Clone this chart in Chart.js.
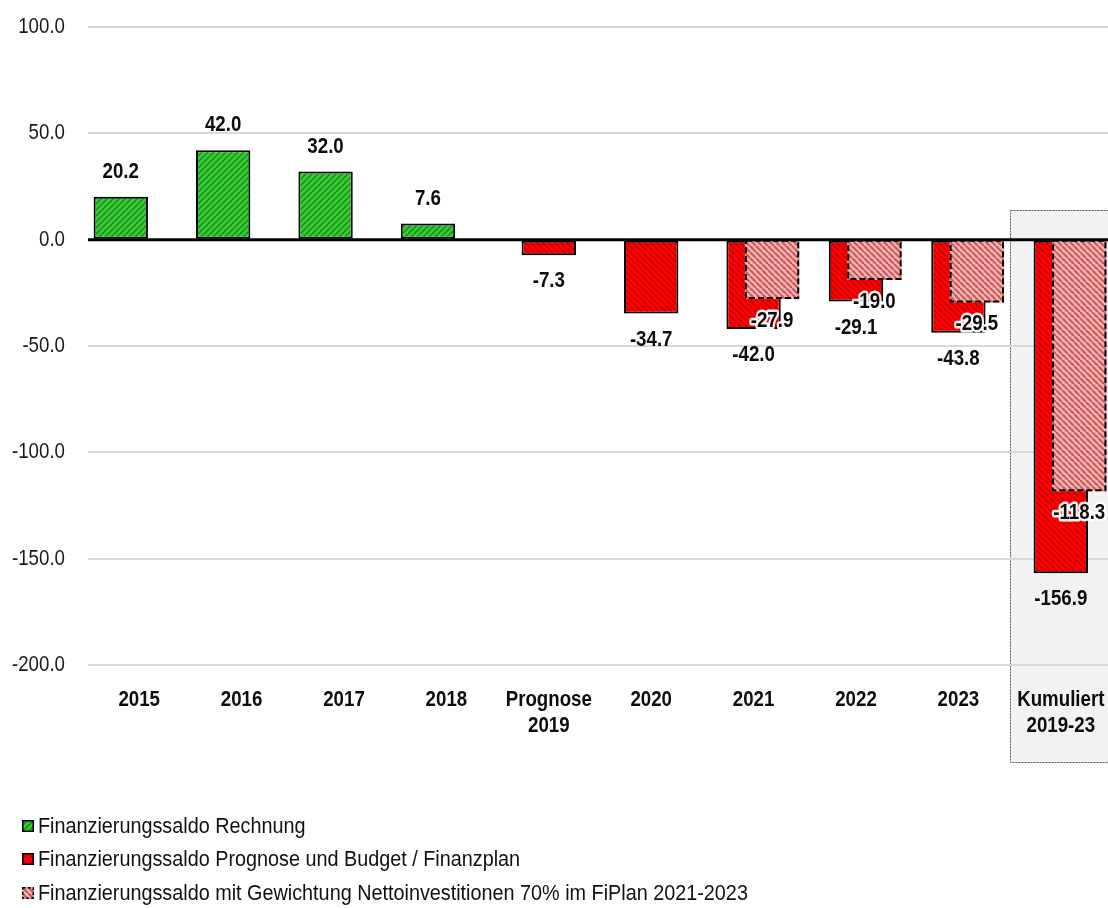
<!DOCTYPE html>
<html>
<head>
<meta charset="utf-8">
<script src="https://cdn.jsdelivr.net/npm/chart.js@4"></script>
<style>
  html, body { margin: 0; padding: 0; background: #ffffff; overflow: hidden; width: 1108px; height: 908px; }
  #wrap { position: relative; width: 1108px; height: 908px; overflow: hidden; }
  #c { position: absolute; left: 0; top: 0; }
  #legend { position: absolute; left: 22px; top: 809px; font-family: 'Liberation Sans', Arial, sans-serif; font-size: 22px; color: #111111; }
  .row { display: flex; align-items: center; height: 33.5px; white-space: nowrap; }
  .row canvas { margin-right: 4px; flex: none; }
  .row span { display: inline-block; transform: scaleX(0.9); transform-origin: left center; }
</style>
</head>
<body>
<div id="wrap">
  <canvas id="c" width="1112" height="908"></canvas>
  <div id="legend"></div>
</div>
<script>
// ---- data ----
const categories = ['2015', '2016', '2017', '2018', ['Prognose', '2019'], '2020', '2021', '2022', '2023', ['Kumuliert', '2019-23']];
const seriesNames = [
  'Finanzierungssaldo Rechnung',
  'Finanzierungssaldo Prognose und Budget / Finanzplan',
  'Finanzierungssaldo mit Gewichtung Nettoinvestitionen 70% im FiPlan 2021-2023'
];
const rechnung = [20.2, 42.0, 32.0, 7.6, null, null, null, null, null, null];
const budget = [null, null, null, null, -7.3, -34.7, -42.0, -29.1, -43.8, -156.9];
const gewichtet = [null, null, null, null, null, null, -27.9, -19.0, -29.5, -118.3];
const yTicks = [-200, -150, -100, -50, 0, 50, 100];

const FONT = "'Liberation Sans', Arial, sans-serif";
const SX = 0.85; // horizontal condensing to mimic a narrow face

function makePattern(bg, line, lw, dir, size) {
  const c = document.createElement('canvas');
  c.width = size; c.height = size;
  const g = c.getContext('2d');
  g.fillStyle = bg; g.fillRect(0, 0, size, size);
  g.strokeStyle = line; g.lineWidth = lw; g.beginPath();
  for (const k of [-size, 0, size]) {
    if (dir === '/') { g.moveTo(k, size); g.lineTo(k + size, 0); }
    else { g.moveTo(k, 0); g.lineTo(k + size, size); }
  }
  g.stroke();
  return g.createPattern(c, 'repeat');
}
const greenPat = makePattern('#35cc35', '#1b861b', 1.5, '/', 6);
const redPat = makePattern('#ff0000', '#c20000', 1.4, '\\', 6);
const pinkPat = makePattern('#f1b9b9', '#cf5a5a', 2.2, '\\', 6);

function condText(ctx, txt, x, y, align, font, color, halo) {
  ctx.save();
  ctx.translate(x, y);
  ctx.scale(SX, 1);
  ctx.font = font;
  ctx.textAlign = align;
  ctx.textBaseline = 'middle';
  if (halo) {
    ctx.lineJoin = 'round';
    ctx.strokeStyle = 'rgba(255,255,255,0.95)';
    ctx.lineWidth = 5;
    ctx.strokeText(txt, 0, 0);
  }
  ctx.fillStyle = color;
  ctx.fillText(txt, 0, 0);
  ctx.restore();
}

const boxPlugin = {
  id: 'kumBox',
  beforeDraw(chart) {
    const {ctx, scales: {x, y}, chartArea} = chart;
    const n = categories.length - 1;
    const half = (x.getPixelForValue(n) - x.getPixelForValue(n - 1)) / 2;
    const left = Math.round(x.getPixelForValue(n) - half) + 0.5;
    const top = Math.round(y.getPixelForValue(14)) + 0.5;
    const bottom = chartArea.bottom + 97.5;
    ctx.save();
    ctx.fillStyle = '#f2f2f2';
    ctx.fillRect(left, top, chart.width - left + 10, bottom - top);
    ctx.strokeStyle = '#555555';
    ctx.lineWidth = 1;
    ctx.setLineDash([2, 1]);
    ctx.strokeRect(left, top, chart.width - left + 10, bottom - top);
    ctx.restore();
  }
};

const orderPlugin = {
  id: 'orderLabels',
  beforeDatasetDraw(chart, args) {
    if (args.index === 2) return false;
  },
  afterDatasetsDraw(chart) {
    const {ctx, scales: {x, y}, chartArea} = chart;
    const meta2 = chart.getDatasetMeta(2);
    meta2.controller.draw();
    // dashed outline for weighted bars
    ctx.save();
    ctx.strokeStyle = '#000';
    ctx.lineWidth = 2;
    ctx.setLineDash([6, 3]);
    meta2.data.forEach((el, i) => {
      if (gewichtet[i] == null) return;
      const p = el.getProps(['x', 'y', 'base', 'width'], true);
      ctx.strokeRect(p.x - p.width / 2 + 1, p.base, p.width - 2, p.y - p.base - 1);
    });
    ctx.restore();
    // zero line
    const y0 = y.getPixelForValue(0);
    ctx.save();
    ctx.strokeStyle = '#000';
    ctx.lineWidth = 3;
    ctx.beginPath();
    ctx.moveTo(chartArea.left, y0);
    ctx.lineTo(chartArea.right, y0);
    ctx.stroke();
    ctx.restore();
    // value labels
    const bold = 'bold 22px ' + FONT;
    [rechnung, budget, gewichtet].forEach((arr, di) => {
      const meta = chart.getDatasetMeta(di);
      meta.data.forEach((el, i) => {
        const v = arr[i];
        if (v == null) return;
        const p = el.getProps(['x', 'y'], true);
        const ly = v >= 0 ? p.y - 25 : p.y + (di === 2 ? 22 : 26);
        condText(ctx, v.toFixed(1), p.x, ly, 'center', bold, '#0d0d0d', di === 2);
      });
    });
    // y tick labels
    y.ticks.forEach(t => {
      condText(ctx, t.value.toFixed(1), chartArea.left - 23, y.getPixelForValue(t.value), 'right', '22px ' + FONT, '#1a1a1a', false);
    });
    // x category labels
    categories.forEach((lab, i) => {
      const lines = Array.isArray(lab) ? lab : [lab];
      const cx = x.getPixelForValue(i);
      lines.forEach((ln, k) => {
        condText(ctx, ln, cx, chartArea.bottom + 35 + k * 26, 'center', bold, '#0d0d0d', false);
      });
    });
  }
};

const chart = new Chart(document.getElementById('c'), {
  type: 'bar',
  data: {
    labels: categories,
    datasets: [
      { label: seriesNames[0], data: rechnung, backgroundColor: greenPat, borderColor: '#000', borderWidth: 2, borderSkipped: false },
      { label: seriesNames[1], data: budget, backgroundColor: redPat, borderColor: '#000', borderWidth: 2, borderSkipped: false },
      { label: seriesNames[2], data: gewichtet, backgroundColor: pinkPat, borderColor: '#000', borderWidth: 0, borderSkipped: false }
    ]
  },
  options: {
    responsive: false,
    animation: false,
    layout: { padding: { top: 27, left: 0, right: 0, bottom: 0 } },
    datasets: { bar: { categoryPercentage: 0.54, barPercentage: 2.95 } },
    plugins: { legend: { display: false }, tooltip: { enabled: false } },
    scales: {
      x: {
        grid: { display: false, drawTicks: false },
        border: { display: false },
        ticks: { display: false, autoSkip: false, maxRotation: 0 },
        afterFit(s) { s.height = 243; }
      },
      y: {
        min: -200, max: 100,
        afterBuildTicks(s) { s.ticks = yTicks.map(v => ({ value: v })); },
        grid: { color: (c) => c.tick && c.tick.value === 0 ? '#000' : '#d9d9d9', lineWidth: 2, drawTicks: false },
        border: { display: false },
        ticks: { display: false },
        afterFit(s) { s.width = 88; }
      }
    }
  },
  plugins: [boxPlugin, orderPlugin]
});

// HTML legend built from datasets
const legend = document.getElementById('legend');
chart.data.datasets.forEach((ds, i) => {
  const row = document.createElement('div');
  row.className = 'row';
  const m = document.createElement('canvas');
  m.width = 12; m.height = 12;
  const g = m.getContext('2d');
  g.fillStyle = ds.backgroundColor; g.fillRect(0, 0, 12, 12);
  g.strokeStyle = '#000'; g.lineWidth = 1.5;
  if (i === 2) g.setLineDash([3, 2]);
  g.strokeRect(0.75, 0.75, 10.5, 10.5);
  row.appendChild(m);
  const t = document.createElement('span');
  t.textContent = ds.label;
  row.appendChild(t);
  legend.appendChild(row);
});
</script>
</body>
</html>
